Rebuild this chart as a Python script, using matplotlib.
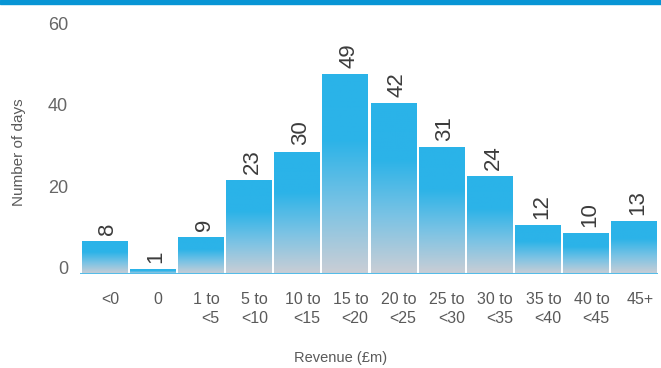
import numpy as np
import matplotlib.pyplot as plt
from matplotlib.colors import LinearSegmentedColormap
from matplotlib.patches import Rectangle

plt.rcParams['font.family'] = ['Liberation Sans', 'DejaVu Sans']

categories = ['<0', '0', '1 to\n<5', '5 to\n<10', '10 to\n<15', '15 to\n<20',
              '20 to\n<25', '25 to\n<30', '30 to\n<35', '35 to\n<40',
              '40 to\n<45', '45+']
days = [8, 1, 9, 23, 30, 49, 42, 31, 24, 12, 10, 13]
yticks = [0, 20, 40, 60]

text_col = '#5a5a5a'
fade = LinearSegmentedColormap.from_list('fade', ['#cbced5', '#7cc3e4', '#2cb3e8', '#2ab3e9'])

fig = plt.figure(figsize=(6.61, 3.68), dpi=100)
ax = fig.add_axes([80 / 661, 1 - 274 / 368, 578 / 661, 244 / 368])

# strip along the top edge
fig.patches.append(Rectangle((0, 1 - 4 / 368), 1, 4 / 368, transform=fig.transFigure,
                             color='#0795d5', zorder=0))

width = 0.935
grad = np.linspace(0, 1, 256).reshape(-1, 1)
for i, v in enumerate(days):
    x0 = i - width / 2
    ax.imshow(grad, cmap=fade, origin='lower', aspect='auto',
              extent=(x0, x0 + width, 0, v), zorder=2)
    ax.text(i + 0.08, v + 1.6, str(v), rotation=90, ha='center', va='bottom',
            fontsize=16, color='#3c3c3c', clip_on=False)

ax.axhline(0, color='#55bce8', lw=2.2, zorder=3)
ax.set_xlim(-0.5, len(days) - 0.5)
ax.set_ylim(0, 60)

for s in ax.spines.values():
    s.set_visible(False)

# category labels sit a little right of each bar's centre
ax.set_xticks([i + 0.12 for i in range(len(days))])
ax.set_xticklabels(categories, fontsize=11.5, color=text_col, linespacing=1.3,
                   ha='center', multialignment='right')
ax.set_yticks(yticks)
ax.set_yticklabels([str(t) for t in yticks], fontsize=13, color='#666666')
for lbl in ax.get_yticklabels():
    lbl.set_va('baseline')
ax.tick_params(axis='x', length=0, pad=13)
ax.tick_params(axis='y', length=0, pad=8.5)

ax.set_ylabel('Number of days', fontsize=11, color=text_col, labelpad=16)
ax.set_xlabel('Revenue (£m)', fontsize=10.5, color=text_col)
ax.xaxis.set_label_coords((341 - 80) / 578, -0.315)

fig.savefig('out.png', dpi=100)
